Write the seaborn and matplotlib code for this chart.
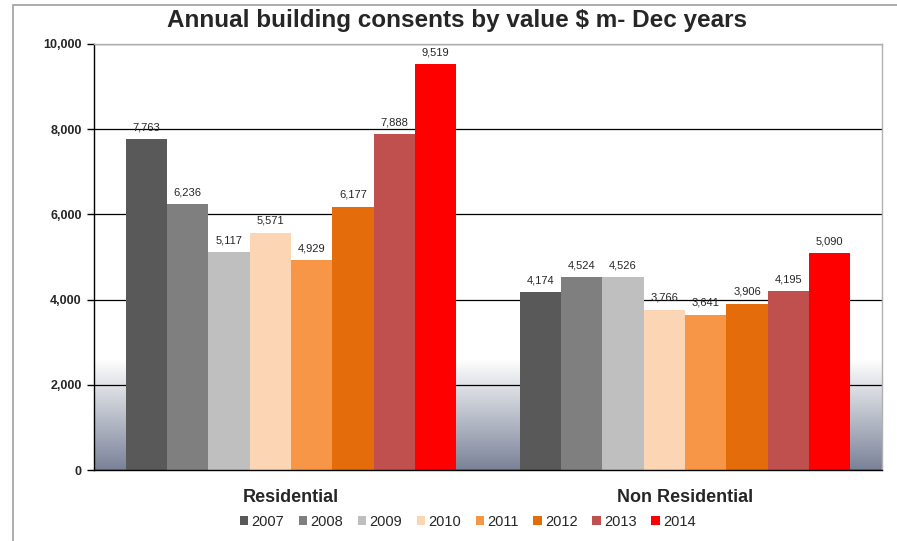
import numpy as np
import pandas as pd
import matplotlib.pyplot as plt
import seaborn as sns
from matplotlib.colors import LinearSegmentedColormap
from matplotlib.patches import Rectangle

categories = ['Residential', 'Non Residential']
years = ['2007', '2008', '2009', '2010', '2011', '2012', '2013', '2014']
residential = [7763, 6236, 5117, 5571, 4929, 6177, 7888, 9519]
non_residential = [4174, 4524, 4526, 3766, 3641, 3906, 4195, 5090]
colors = ['#595959', '#7f7f7f', '#bfbfbf', '#fcd5b4', '#f79646', '#e46c0a', '#c0504d', '#ff0000']

df = pd.DataFrame({
    'Category': [categories[0]] * len(years) + [categories[1]] * len(years),
    'Year': years + years,
    'Value': residential + non_residential,
})

sns.set_style('white')
plt.rcParams['font.family'] = ['Liberation Sans', 'DejaVu Sans']

fig = plt.figure(figsize=(8.97, 5.41), dpi=100)
ax = fig.add_axes([0.1048, 0.1312, 0.8785, 0.7875])

# figure frame like the slide
fig.patches.append(Rectangle((0.0145, -0.05), 1.2, 1.04, transform=fig.transFigure,
                             fill=False, edgecolor='#a0a0a0', lw=1.2, zorder=0))

# gradient at the bottom of the plot area
cmap = LinearSegmentedColormap.from_list('grad', ['#7a8298', '#ffffff'])
grad = np.linspace(0, 1, 256).reshape(-1, 1)
ax.imshow(grad, cmap=cmap, origin='lower', aspect='auto',
          extent=[-0.5, 1.5, 0, 2600], zorder=0.2)

sns.barplot(data=df, x='Category', y='Value', hue='Year', palette=colors,
            width=0.84, gap=0, linewidth=0, saturation=1, ax=ax, legend=True)
for p in ax.patches:
    p.set_zorder(3)

ax.set_axisbelow(True)
ax.yaxis.grid(True, color='black', lw=0.9)
ax.xaxis.grid(False)

for cont in ax.containers:
    ax.bar_label(cont, labels=[f'{v:,.0f}' for v in cont.datavalues],
                 padding=5, fontsize=8, zorder=4)

ax.set_xlim(-0.5, 1.5)
ax.set_ylim(0, 10000)
ax.set_yticks(range(0, 10001, 2000))
ax.set_yticklabels([f'{v:,}' for v in range(0, 10001, 2000)], fontsize=9, fontweight='bold')
ax.set_xticks([0, 1])
ax.set_xticklabels(categories, fontsize=13, fontweight='bold')
ax.set_xticks([-0.5, 0.5, 1.5], minor=True)
ax.tick_params(axis='x', which='major', length=0, pad=14)
ax.tick_params(axis='x', which='minor', length=5, width=1, color='black', direction='out')
ax.tick_params(axis='y', length=5, width=1, color='black', direction='out', left=True, pad=4)
ax.set_xlabel('')
ax.set_ylabel('')

for side in ['left', 'bottom']:
    ax.spines[side].set_color('black')
    ax.spines[side].set_linewidth(1)
    ax.spines[side].set_zorder(5)
for side in ['right', 'top']:
    ax.spines[side].set_color('#b0b0b0')
    ax.spines[side].set_linewidth(1)
    ax.spines[side].set_zorder(5)

fig.text(0.51, 0.962, 'Annual building consents by value $ m- Dec years',
         ha='center', va='center', fontsize=17.5, fontweight='bold')

handles, labels = ax.get_legend_handles_labels()
ax.legend(handles, labels, loc='center', bbox_to_anchor=(0.474, -0.122), ncol=8,
          frameon=False, fontsize=10.5, handlelength=0.6, handleheight=0.6,
          handletextpad=0.2, columnspacing=1.0)

plt.savefig('out.png', dpi=100)
